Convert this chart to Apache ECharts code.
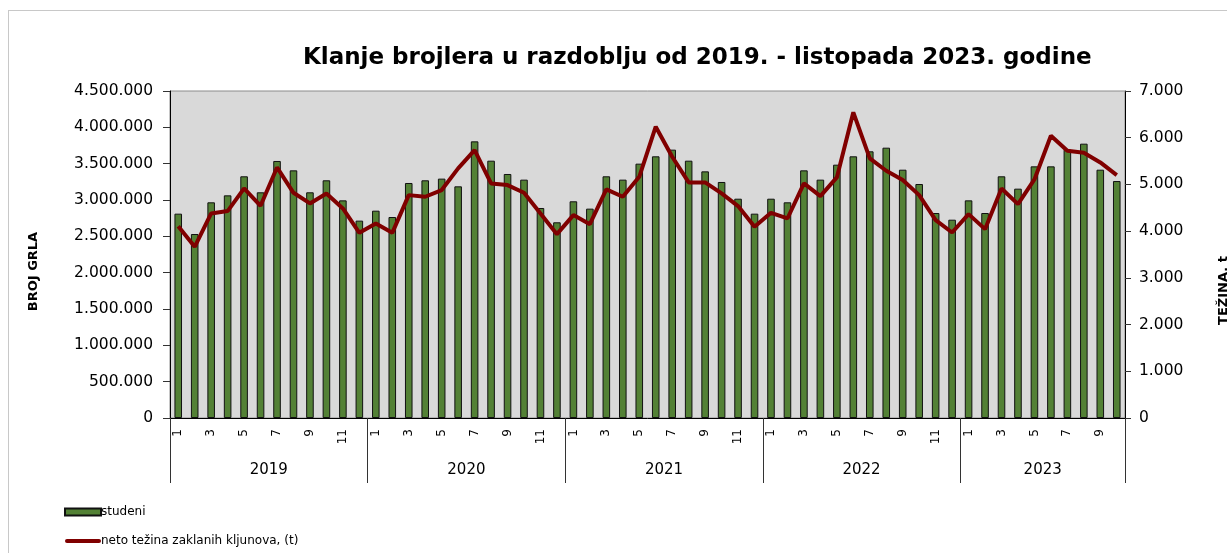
<!DOCTYPE html>
<html>
<head>
<meta charset="utf-8">
<title>Klanje brojlera</title>
<script src="https://cdn.jsdelivr.net/npm/echarts@6/dist/echarts.min.js"></script>
<style>
  html, body { margin: 0; padding: 0; background: #fff; overflow: hidden; }
  #chart { position: absolute; left: 0; top: 0; width: 1227px; height: 553px; }
  #frame { position: absolute; left: 8px; top: 10px; width: 1240px; height: 600px;
           border-left: 1px solid #c8c8c8; border-top: 1px solid #c8c8c8; }
</style>
</head>
<body>
<div id="frame"></div>
<div id="chart"></div>
<script>
// podaci
const years = ["2019", "2020", "2021", "2022", "2023"];
const monthsPerYear = [12, 12, 12, 12, 10];

// broj grla (studeni) po mjesecima
const studeni = [
  2812000, 2532000, 2968000, 3064000, 3326000, 3106000, 3537000, 3408000, 3106000, 3271000, 2995000, 2716000,
  2853000, 2766000, 3234000, 3271000, 3294000, 3188000, 3807000, 3541000, 3358000, 3280000, 2890000, 2693000,
  2982000, 2881000, 3326000, 3280000, 3500000, 3601000, 3693000, 3541000, 3394000, 3248000, 3018000, 2812000,
  3018000, 2968000, 3408000, 3280000, 3486000, 3601000, 3670000, 3720000, 3417000, 3220000, 2821000, 2729000,
  2995000, 2821000, 3326000, 3156000, 3463000, 3463000, 3693000, 3775000, 3417000, 3261000
];

// neto tezina zaklanih kljunova, t
const netoTezina = [
  4107, 3664, 4379, 4429, 4914, 4543, 5364, 4821, 4593, 4807, 4486, 3964,
  4164, 3964, 4771, 4736, 4879, 5343, 5736, 5021, 4986, 4821, 4379, 3936,
  4343, 4150, 4893, 4736, 5164, 6236, 5593, 5043, 5043, 4807, 4536, 4093,
  4393, 4271, 5021, 4750, 5150, 6543, 5557, 5293, 5093, 4771, 4236, 3971,
  4364, 4043, 4914, 4579, 5107, 6043, 5721, 5679, 5471, 5200
];

const leftTicks = { min: 0, max: 4500000, interval: 500000 };
const rightTicks = { min: 0, max: 7000, interval: 1000 };

// mjeseci kao kategorije (1..12 za svaku godinu)
const months = [];
monthsPerYear.forEach((n) => {
  for (let m = 1; m <= n; m++) months.push(String(m));
});

// granice godina i sredine za natpise
const yearEdges = [0];
const yearCenters = [];
monthsPerYear.forEach((n, i) => {
  yearCenters.push(yearEdges[i] + n / 2);
  yearEdges.push(yearEdges[i] + n);
});

function fmt(v) {
  return String(Math.round(v)).replace(/\B(?=(\d{3})+(?!\d))/g, ".");
}

const FONT = "DejaVu Sans";
const LINE_ICON = "path://M2,0 L34,0 A2,2 0 0 1 34,4 L2,4 A2,2 0 0 1 2,0 Z";

function drawChart() {
  const chart = echarts.init(document.getElementById("chart"), null, { renderer: "canvas" });
  const option = {
    animation: false,
    textStyle: { fontFamily: FONT },
    title: {
      text: "Klanje brojlera u razdoblju od 2019. - listopada 2023. godine",
      left: 298,
      top: 42,
      textStyle: { fontFamily: FONT, fontSize: 23, fontWeight: "bold", color: "#000" },
    },
    legend: {
      orient: "vertical",
      left: 64,
      top: 506,
      height: 47,
      padding: 0,
      itemWidth: 36,
      itemHeight: 7,
      itemGap: 17,
      symbolKeepAspect: true,
      textStyle: { fontFamily: FONT, fontSize: 12, color: "#000", padding: [0, 0, 0, -5] },
      data: [
        { name: "studeni", icon: "rect" },
        { name: "neto težina zaklanih kljunova, (t)", icon: LINE_ICON, itemStyle: { color: "#800000", borderWidth: 0 } },
      ],
    },
    grid: {
      left: 170,
      right: 102,
      top: 91,
      bottom: 135,
      outerBoundsMode: "none",
      show: true,
      backgroundColor: "#d9d9d9",
      borderColor: "#8c8c8c",
      borderWidth: 1,
    },
    xAxis: [
      {
        type: "category",
        data: months,
        axisLine: { lineStyle: { color: "#000" } },
        axisTick: { interval: 0, length: 32, lineStyle: { color: "#777" } },
        axisLabel: {
          interval: 1,
          rotate: 90,
          margin: 11,
          fontSize: 12,
          color: "#000",
          fontFamily: FONT,
        },
      },
      {
        type: "value",
        min: 0,
        max: yearEdges[yearEdges.length - 1],
        position: "bottom",
        offset: 0,
        axisLine: { show: false },
        splitLine: { show: false },
        axisTick: { show: true, customValues: yearEdges, length: 65, lineStyle: { color: "#333" } },
        axisLabel: {
          customValues: yearCenters,
          margin: 45,
          fontSize: 15,
          color: "#000",
          fontFamily: FONT,
          formatter: (v) => years[yearCenters.indexOf(v)] || "",
        },
      },
    ],
    yAxis: [
      {
        type: "value",
        min: leftTicks.min,
        max: leftTicks.max,
        interval: leftTicks.interval,
        name: "BROJ GRLA",
        nameLocation: "middle",
        nameRotate: 90,
        nameGap: 130,
        nameTextStyle: { fontFamily: FONT, fontSize: 13, fontWeight: "bold", color: "#000", padding: [0, 34, 0, 0] },
        axisLine: { show: true, lineStyle: { color: "#000" } },
        axisTick: { show: true, length: 7, lineStyle: { color: "#333" } },
        axisLabel: { fontSize: 15.5, color: "#000", margin: 17, formatter: fmt, fontFamily: FONT },
        splitLine: { show: false },
      },
      {
        type: "value",
        position: "right",
        min: rightTicks.min,
        max: rightTicks.max,
        interval: rightTicks.interval,
        name: "TEŽINA, t",
        nameLocation: "middle",
        nameRotate: 90,
        nameGap: 92,
        nameTextStyle: { fontFamily: FONT, fontSize: 13, fontWeight: "bold", color: "#000", padding: [0, 72, 0, 0] },
        axisLine: { show: true, lineStyle: { color: "#000" } },
        axisTick: { show: true, length: 6, lineStyle: { color: "#333" } },
        axisLabel: { fontSize: 15.5, color: "#000", margin: 14, formatter: fmt, fontFamily: FONT },
        splitLine: { show: false },
      },
    ],
    series: [
      {
        name: "studeni",
        type: "bar",
        xAxisIndex: 0,
        yAxisIndex: 0,
        barWidth: "46%",
        itemStyle: { color: "#538135", borderColor: "#111", borderWidth: 1 },
        data: studeni,
      },
      {
        name: "neto težina zaklanih kljunova, (t)",
        type: "line",
        xAxisIndex: 0,
        yAxisIndex: 1,
        symbol: "none",
        lineStyle: { color: "#800000", width: 4 },
        itemStyle: { color: "#800000" },
        data: netoTezina,
      },
    ],
  };
  option && chart.setOption(option);
}

drawChart();
</script>
</body>
</html>
